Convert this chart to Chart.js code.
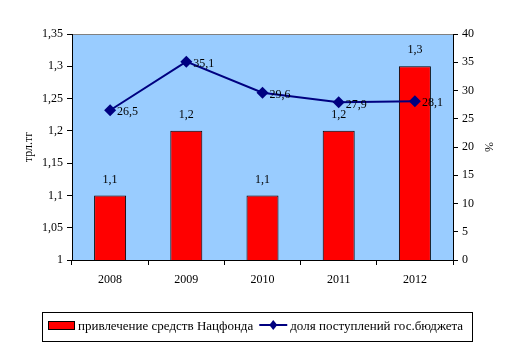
<!DOCTYPE html>
<html>
<head>
<meta charset="utf-8">
<script src="https://cdn.jsdelivr.net/npm/chart.js@4/dist/chart.umd.min.js"></script>
<style>
  body { margin: 0; background: #fff; }
  canvas { display: block; }
</style>
</head>
<body>
<canvas id="chart" width="515" height="352"></canvas>
<script>
//Categories and series
const years = ["2008", "2009", "2010", "2011", "2012"];
const fundValues = [1.1, 1.2, 1.1, 1.2, 1.3];
const budgetShare = [26.5, 35.1, 29.6, 27.9, 28.1];
const barLabel = "привлечение средств Нацфонда";
const lineLabel = "доля поступлений гос.бюджета";

const serif = "'Liberation Serif', 'Times New Roman', serif";
//Numbers with comma as decimal separator
function fmt(v) {
  return String(Math.round(v * 100) / 100).replace(".", ",");
}

//Plot background, value labels and boxed legend
const decorPlugin = {
  id: "decor",
  beforeDraw(chart) {
    const { ctx, chartArea: a } = chart;
    ctx.save();
    ctx.fillStyle = "#99CCFF";
    ctx.fillRect(a.left, a.top, a.right - a.left, a.bottom - a.top);
    ctx.strokeStyle = "#808080";
    ctx.lineWidth = 1;
    ctx.strokeRect(a.left + 0.5, a.top + 0.5, a.right - a.left, a.bottom - a.top);
    ctx.restore();
  },
  afterDraw(chart) {
    const ctx = chart.ctx;
    ctx.save();
    ctx.font = "12px " + serif;
    ctx.fillStyle = "#000";
    ctx.textBaseline = "middle";
    //bar labels
    ctx.textAlign = "center";
    chart.getDatasetMeta(0).data.forEach((bar, i) => {
      ctx.fillText(fmt(fundValues[i]), bar.x, bar.y - 16);
    });
    //line labels
    ctx.textAlign = "left";
    chart.getDatasetMeta(1).data.forEach((pt, i) => {
      ctx.fillText(fmt(budgetShare[i]), pt.x + 7, pt.y + 2);
    });

    //legend
    ctx.strokeStyle = "#000";
    ctx.lineWidth = 1;
    ctx.strokeRect(42.5, 312.5, 430, 29);
    ctx.fillStyle = "#FF0000";
    ctx.fillRect(48, 321, 26, 8);
    ctx.strokeRect(48.5, 321.5, 26, 8);
    ctx.font = "13px " + serif;
    ctx.fillStyle = "#000";
    ctx.fillText(barLabel, 78, 327);
    const x0 = 78 + ctx.measureText(barLabel).width + 6;
    ctx.strokeStyle = "#000080";
    ctx.lineWidth = 2;
    ctx.beginPath();
    ctx.moveTo(x0, 325);
    ctx.lineTo(x0 + 28, 325);
    ctx.stroke();
    ctx.fillStyle = "#000080";
    ctx.beginPath();
    ctx.moveTo(x0 + 14, 320);
    ctx.lineTo(x0 + 18, 325);
    ctx.lineTo(x0 + 14, 330);
    ctx.lineTo(x0 + 10, 325);
    ctx.closePath();
    ctx.fill();
    ctx.fillStyle = "#000";
    ctx.fillText(lineLabel, x0 + 31, 327);
    ctx.restore();
  },
};

const ctx = document.getElementById("chart").getContext("2d");
new Chart(ctx, {
  data: {
    labels: years,
    datasets: [
      {
        type: "bar",
        label: barLabel,
        data: fundValues,
        backgroundColor: "#FF0000",
        borderColor: "#000000",
        borderWidth: 1,
        borderSkipped: "bottom",
        categoryPercentage: 0.84,
        barPercentage: 0.5,
        yAxisID: "y",
        order: 2,
      },
      {
        type: "line",
        label: lineLabel,
        data: budgetShare,
        borderColor: "#000080",
        backgroundColor: "#000080",
        borderWidth: 2,
        pointStyle: "rectRot",
        pointRadius: 6,
        pointBorderWidth: 0,
        tension: 0,
        yAxisID: "y1",
        order: 1,
      },
    ],
  },
  options: {
    responsive: false,
    animation: false,
    layout: { padding: { top: 34, bottom: 62, left: 0, right: 0 } },
    plugins: {
      legend: { display: false },
      tooltip: { enabled: false },
    },
    scales: {
      x: {
        offset: true,
        grid: {
          offset: true,
          drawOnChartArea: false,
          color: "#000",
          tickLength: 5,
          tickColor: "#000",
        },
        border: { color: "#000", width: 1 },
        ticks: { color: "#000", font: { family: serif, size: 12 }, padding: 8 },
        afterFit(scale) { scale.height = 30; },
      },
      y: {
        position: "left",
        min: 1,
        max: 1.35,
        ticks: {
          stepSize: 0.05,
          color: "#000",
          font: { family: serif, size: 12 },
          padding: 4,
          callback: (v) => fmt(v),
        },
        grid: { drawOnChartArea: false, tickLength: 5, tickColor: "#000" },
        border: { color: "#000", width: 1 },
        title: {
          display: true,
          text: "трл.тг",
          color: "#000",
          font: { family: serif, size: 12 },
          padding: { top: 22, bottom: 0 },
        },
        afterFit(scale) { scale.width = 72; },
      },
      y1: {
        position: "right",
        min: 0,
        max: 40,
        ticks: {
          stepSize: 5,
          color: "#000",
          font: { family: serif, size: 12 },
          padding: 4,
        },
        grid: { drawOnChartArea: false, tickLength: 5, tickColor: "#000" },
        border: { color: "#000", width: 1 },
        title: {
          display: true,
          text: "%",
          color: "#000",
          font: { family: serif, size: 12 },
          padding: { top: 20, bottom: 0 },
        },
        afterFit(scale) { scale.width = 62; },
      },
    },
  },
  plugins: [decorPlugin],
});
</script>
</body>
</html>
